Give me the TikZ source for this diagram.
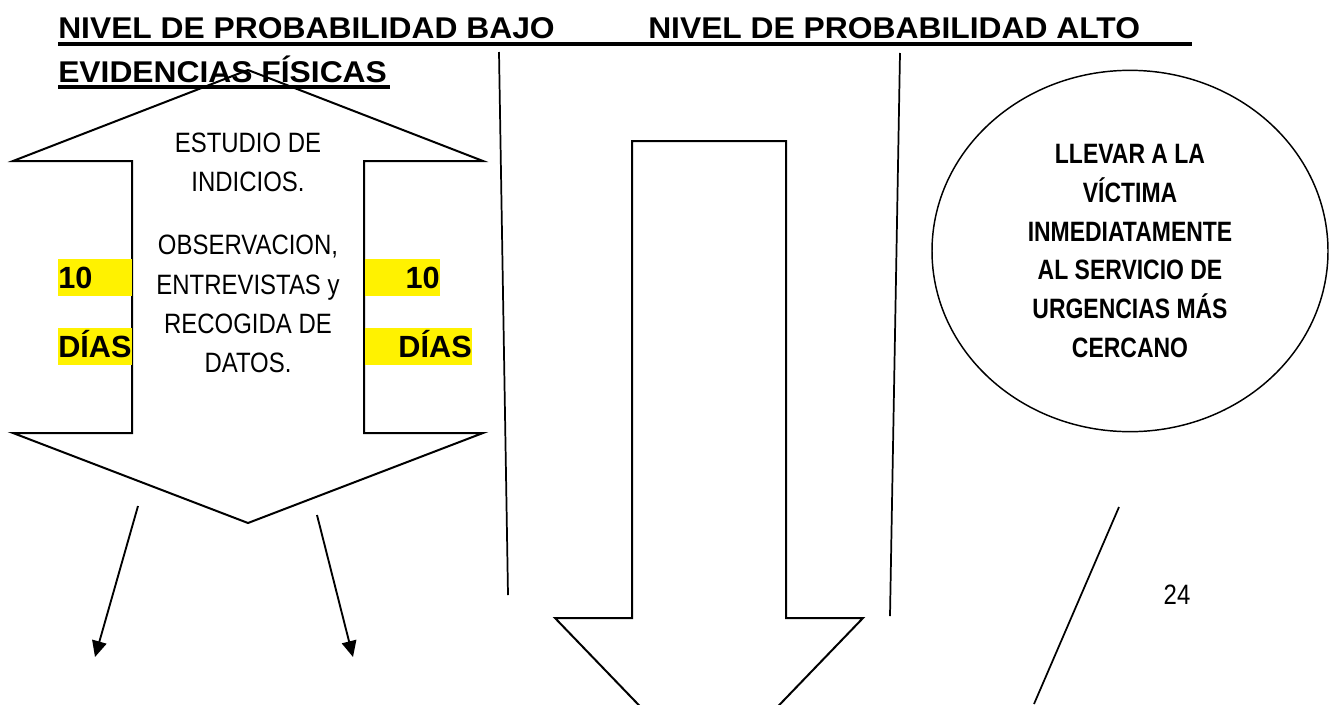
\documentclass[tikz,border=0pt]{standalone}
\usepackage{fontspec}
\setmainfont{Liberation Sans}
\newfontfamily\cabfont[FakeStretch=1.06]{Liberation Sans}
\newfontfamily\estrechafont[FakeStretch=0.855]{Liberation Sans}
\newfontfamily\globofont[FakeStretch=0.82]{Liberation Sans}
\usetikzlibrary{arrows.meta,shapes.geometric}

\begin{document}
\begin{tikzpicture}
[
    x=0.75pt, y=-0.75pt,
    linea/.style={line width=1.5pt, line join=miter},
    raya/.style={line width=1.3pt},
    subraya/.style={line width=2.4pt},
    cabecera/.style={anchor=base west, inner sep=0, font=\cabfont\bfseries\fontsize{22.5}{27}\selectfont},
    texto/.style={inner sep=0, align=center, font=\estrechafont\fontsize{21}{29.3}\selectfont},
    dias/.style={inner sep=0, font=\bfseries\fontsize{23}{27}\selectfont},
    resalte/.style={fill=yellow},
    globo/.style={ellipse, draw, line width=1.1pt, inner sep=0, minimum width=297pt, minimum height=271pt,
        align=center, font=\globofont\bfseries\fontsize{21}{29}\selectfont},
    flecha/.style={line width=1.4pt, -{Triangle[length=12pt, width=11pt]}},
]
\useasboundingbox (0,0) rectangle (1332,704);

% cabeceras
\node[cabecera] (bajo) at (58,38) {NIVEL DE PROBABILIDAD BAJO};
\node[cabecera] (alto) at (648,38) {NIVEL DE PROBABILIDAD ALTO};
\node[cabecera] (evidencias) at (58,82) {EVIDENCIAS FÍSICAS};
\draw[subraya] (58,44) -- (1192,44);
\draw[subraya] (58,87) -- (390,87);

% flecha doble
\draw[linea] (248,70) -- (483,161) -- (364,161) -- (364,433) -- (483,433) -- (248,523)
    -- (13,433) -- (132,433) -- (132,161) -- (13,161) -- cycle;
\node[texto, anchor=north] (indicios) at (248,133)
    {ESTUDIO DE\\INDICIOS.\\[18pt]OBSERVACION,\\ENTREVISTAS y\\RECOGIDA DE\\DATOS.};

\fill[resalte] (58,259) rectangle (132,296);
\fill[resalte] (58,328) rectangle (132,365);
\fill[resalte] (365,259) rectangle (440,296);
\fill[resalte] (365,328) rectangle (472,365);
\node[dias, anchor=base west] (diezizq) at (58,288) {10};
\node[dias, anchor=base west] (diasizq) at (58,357) {DÍAS};
\node[dias, anchor=base east] (diezder) at (440,288) {10};
\node[dias, anchor=base east] (diasder) at (472,357) {DÍAS};

\coordinate (f1a) at (138,506);
\coordinate (f1b) at (95,657);
\coordinate (f2a) at (317,515);
\coordinate (f2b) at (353,657);
\draw[flecha] (f1a) -- (f1b);
\draw[flecha] (f2a) -- (f2b);

% lineas largas
\coordinate (l1a) at (499,52);
\coordinate (l1b) at (508,595);
\coordinate (l2a) at (900,53);
\coordinate (l2b) at (890,616);
\draw[raya] (l1a) -- (l1b);
\draw[raya] (l2a) -- (l2b);

% flecha abajo
\draw[linea] (632,141) -- (786,141) -- (786,618) -- (863,618) -- (709,778)
    -- (555,618) -- (632,618) -- cycle;

% urgencias
\node[globo] (urgencias) at (1130,251)
    {LLEVAR A LA\\VÍCTIMA\\INMEDIATAMENTE\\AL SERVICIO DE\\URGENCIAS MÁS\\CERCANO};
\coordinate (l3a) at (1119,507);
\coordinate (l3b) at (1034,704);
\draw[raya] (l3a) -- (l3b);
\node[texto, anchor=base] (pagina) at (1177,604) {24};
\end{tikzpicture}
\end{document}
